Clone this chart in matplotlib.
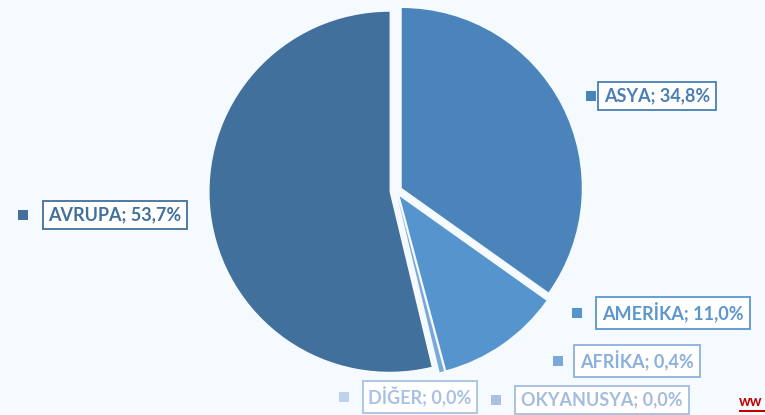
import matplotlib
matplotlib.use("Agg")
import matplotlib.pyplot as plt
from matplotlib.patches import Rectangle

# Data
categories = ["ASYA", "AMERİKA", "AFRİKA", "OKYANUSYA", "DİĞER", "AVRUPA"]
values = [34.8, 11.0, 0.4, 0.0, 0.0, 53.7]
label_texts = ["ASYA; 34,8%", "AMERİKA; 11,0%", "AFRİKA; 0,4%",
               "OKYANUSYA; 0,0%", "DİĞER; 0,0%", "AVRUPA; 53,7%"]
colors = ["#4A84BA", "#5594CC", "#7AA8DA", "#A8C2E4", "#BFD2EC", "#41709C"]
text_colors = ["#4A7EB6", "#5B96CE", "#8BB0DE", "#A4BCDD", "#A9C1E6", "#41709C"]

W, H = 765, 415
BG = "#F5FAFE"
fig = plt.figure(figsize=(W / 100, H / 100), dpi=100, facecolor=BG)

# pie axes: center (396,191) px, radius 180 px
cx, cy, r = 396, 191, 180
half = 1.2 * r
ax = fig.add_axes([(cx - half) / W, (H - cy - half) / H, 2 * half / W, 2 * half / H])
ax.set_facecolor(BG)
ax.axis("off")

explode = [0.036] * len(values)
wedges, _ = ax.pie(values, colors=colors, startangle=90, counterclock=False,
                   explode=explode, radius=1.0,
                   wedgeprops=dict(linewidth=0))
ax.set_xlim(-1.2, 1.2)
ax.set_ylim(-1.2, 1.2)

plt.rcParams['font.family'] = ['Lato', 'DejaVu Sans']

# label positions (box centers in px, marker x in px)
label_pos = {
    "ASYA": (657, 96, 591),
    "AMERİKA": (673, 313, 577),
    "AFRİKA": (637, 361, 558),
    "OKYANUSYA": (602, 400, 496),
    "DİĞER": (420, 397, 344),
    "AVRUPA": (115, 215, 23),
}

for cat, txt, col, tcol in zip(categories, label_texts, colors, text_colors):
    bx, by, mx = label_pos[cat]
    fig.text(bx / W, 1 - by / H, txt, ha="center", va="center",
             fontsize=13, fontweight="bold", color=tcol,
             bbox=dict(boxstyle="square,pad=0.32", facecolor="white",
                       edgecolor=tcol, linewidth=1.3))
    s = 10
    fig.add_artist(Rectangle(((mx - s / 2) / W, 1 - (by + s / 2) / H), s / W, s / H,
                             transform=fig.transFigure, facecolor=col,
                             edgecolor="none"))

# partial watermark at bottom right
fig.text(739 / W, 1 - 402 / H, "ww", ha="left", va="center", fontsize=10.5,
         fontweight="bold", color="#C00000")
fig.add_artist(Rectangle((739 / W, 1 - 412 / H), 30 / W, 2.5 / H,
                         transform=fig.transFigure, facecolor="#C00000",
                         edgecolor="none"))

fig.savefig("out.png", dpi=100, facecolor=BG)
